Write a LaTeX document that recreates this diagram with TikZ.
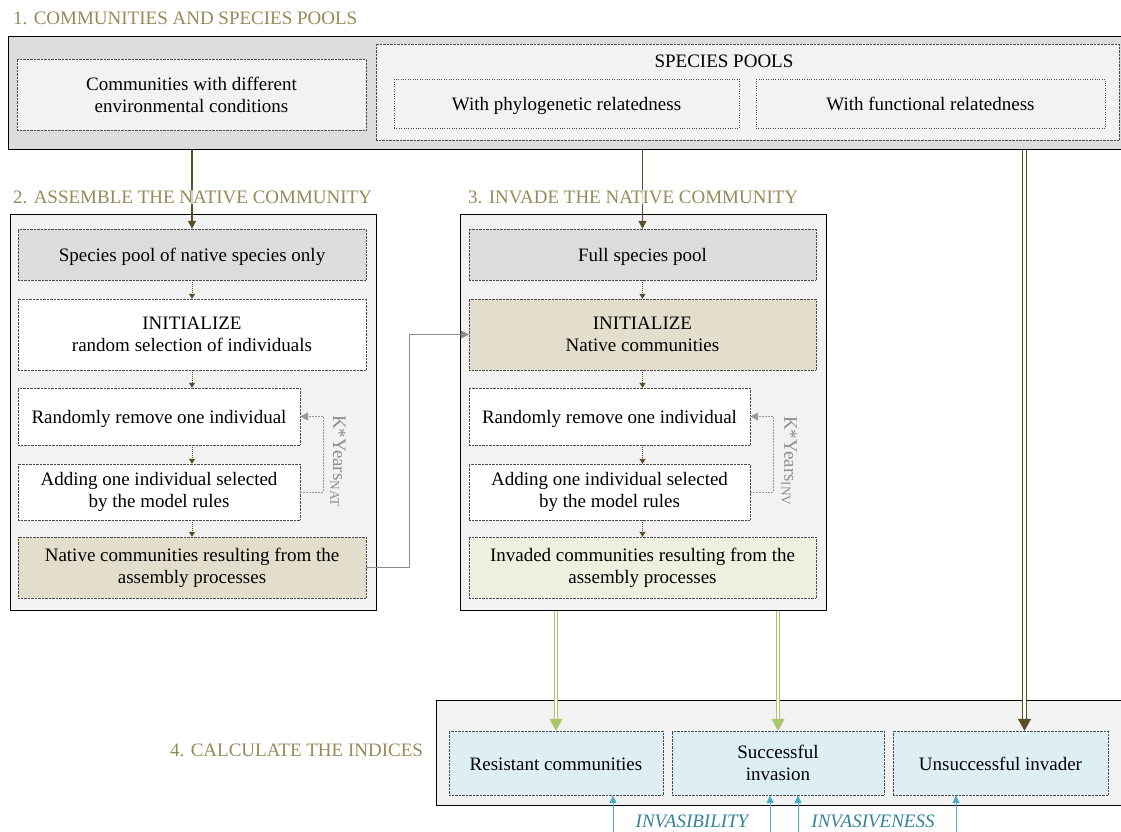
\documentclass[tikz,border=0pt]{standalone}
\usepackage{fontspec}
\setmainfont{Liberation Serif}
\usetikzlibrary{arrows.meta}
\definecolor{titleolive}{RGB}{152,138,88}
\definecolor{darkolive}{RGB}{90,78,40}
\definecolor{panelgray}{RGB}{242,242,242}
\definecolor{poolgray}{RGB}{220,220,220}
\definecolor{beige}{RGB}{227,222,203}
\definecolor{palegreen}{RGB}{235,241,222}
\definecolor{paleblue}{RGB}{222,238,245}
\definecolor{leafgreen}{RGB}{168,198,108}
\definecolor{skyblue}{RGB}{75,172,198}
\definecolor{tealtext}{RGB}{49,132,155}

\begin{document}
\begin{tikzpicture}[x=1pt,y=-1pt,
    every node/.style={font=\fontsize{19}{22}\selectfont},
    title/.style={anchor=west,text=titleolive,fill=white,fill opacity=0.75,text opacity=1,inner sep=1pt},
    panel/.style={draw=black,line width=1pt,fill=panelgray,inner sep=0},
    box/.style={draw=black!70,densely dotted,fill=panelgray,align=center,inner sep=2pt},
    oneline/.style={text height=14pt,text depth=0pt},
    subbox/.style={draw=black!70,dotted,align=center,inner sep=2pt,oneline},
    flow/.style={draw=darkolive,line width=1.2pt,-{Triangle[length=8pt,width=8pt]}},
    stepflow/.style={draw=darkolive,densely dotted,line width=1pt,-{Triangle[length=5pt,width=6pt]}},
    repeat/.style={draw=black!40,dash pattern=on 2pt off 1pt,line width=0.9pt,-{Triangle[length=8pt,width=8pt]}},
    link/.style={draw=black!45,line width=1pt,-{Triangle[length=8pt,width=8pt]}},
    greenpipe/.style={draw=leafgreen,line width=1.2pt,double=white,double distance=2.4pt,-{Triangle[length=12pt,width=13pt]}},
    olivepipe/.style={draw=darkolive,line width=1.2pt,double=white,double distance=2.4pt,-{Triangle[length=12pt,width=13pt]}},
    index/.style={draw=skyblue,line width=1pt,-{Triangle[length=8pt,width=7pt]}}]
  \useasboundingbox (0,0) rectangle (1121,832);

  % 1. communities and species pools
  \node[panel,fill=poolgray,minimum width=1117,minimum height=112] (sec1) at (566.5,93) {};
  \node[box,minimum width=349,minimum height=71] (env) at (191.5,94.5) {Communities with different\\environmental conditions};
  \node[box,minimum width=743,minimum height=96] (pools) at (747.5,92) {};
  \node (poolsname) at (724,61) {SPECIES POOLS};
  \node[subbox,minimum width=345,minimum height=49] (phylo) at (566.5,103.5) {With phylogenetic relatedness};
  \node[subbox,minimum width=349,minimum height=49] (func) at (930.5,103.5) {With functional relatedness};

  % 2. assemble the native community
  \node[panel,minimum width=366,minimum height=396] (sec2) at (193,412) {};
  \node[box,oneline,fill=poolgray,minimum width=348,minimum height=51] (natpool) at (192,254.5) {Species pool of native species only};
  \node[box,fill=white,minimum width=348,minimum height=71] (natinit) at (192,334.5) {INITIALIZE\\random selection of individuals};
  \node[box,oneline,fill=white,minimum width=282,minimum height=57] (natrem) at (159,416.5) {Randomly remove one individual};
  \node[box,fill=white,minimum width=282,minimum height=56] (natadd) at (159,492) {Adding one individual selected\\by the model rules};
  \node[box,fill=beige,minimum width=348,minimum height=61] (natres) at (192,567.5) {Native communities resulting from the\\assembly processes};

  % 3. invade the native community
  \node[panel,minimum width=366,minimum height=396] (sec3) at (643,412) {};
  \node[box,oneline,fill=poolgray,minimum width=347,minimum height=51] (fullpool) at (642.5,254.5) {Full species pool};
  \node[box,fill=beige,minimum width=347,minimum height=71] (invinit) at (642.5,334.5) {INITIALIZE\\Native communities};
  \node[box,oneline,fill=white,minimum width=281,minimum height=57] (invrem) at (609.5,416.5) {Randomly remove one individual};
  \node[box,fill=white,minimum width=281,minimum height=56] (invadd) at (609.5,492) {Adding one individual selected\\by the model rules};
  \node[box,fill=palegreen,minimum width=347,minimum height=61] (invres) at (642.5,567.5) {Invaded communities resulting from the\\assembly processes};

  % 4. calculate the indices
  \node[panel,minimum width=689,minimum height=105] (sec4) at (780.5,752.5) {};
  \node[box,oneline,fill=paleblue,minimum width=214,minimum height=64] (resist) at (556,763) {Resistant communities};
  \node[box,fill=paleblue,minimum width=212,minimum height=64] (succ) at (778,763) {Successful\\invasion};
  \node[box,oneline,fill=paleblue,minimum width=215,minimum height=64] (unsucc) at (1000.5,763) {Unsuccessful invader};

  % steps inside the two processes
  \foreach \a/\b in {natpool/natinit,natinit/natrem,natrem/natadd,natadd/natres}
    \draw[stepflow] (natpool |- \a.south) -- (natpool |- \b.north);
  \foreach \a/\b in {fullpool/invinit,invinit/invrem,invrem/invadd,invadd/invres}
    \draw[stepflow] (fullpool |- \a.south) -- (fullpool |- \b.north);
  \draw[repeat] (natadd.east) -- ++(23,0) |- (natrem.east);
  \draw[repeat] (invadd.east) -- ++(23,0) |- (invrem.east);
  \node[rotate=-90,text=black!45] (natyears) at (338,461) {K*Years\textsubscript{NAT}};
  \node[rotate=-90,text=black!45] (invyears) at (789,461) {K*Years\textsubscript{INV}};

  % between the sections
  \draw[flow] (sec1.south -| natpool) -- (natpool.north);
  \draw[flow] (sec1.south -| fullpool) -- (fullpool.north);
  \draw[link] (natres.east) -- ++(43,0) |- (invinit.west);
  \draw[greenpipe] (sec3.south -| resist) -- (resist.north);
  \draw[greenpipe] (sec3.south -| succ) -- (succ.north);
  \draw[olivepipe] ([xshift=24]unsucc.north |- sec1.south) -- ([xshift=24]unsucc.north);

  % indices
  \coordinate (ib1) at (613,832);
  \coordinate (ib2) at (770,832);
  \coordinate (ie1) at (798,832);
  \coordinate (ie2) at (956,832);
  \draw[index] (ib1) -- (ib1 |- resist.south);
  \draw[index] (ib2) -- (ib2 |- succ.south);
  \draw[index] (ie1) -- (ie1 |- succ.south);
  \draw[index] (ie2) -- (ie2 |- unsucc.south);
  \node[text=tealtext,font=\fontsize{19}{22}\selectfont\itshape] (invasib) at (692,821) {INVASIBILITY};
  \node[text=tealtext,font=\fontsize{19}{22}\selectfont\itshape] (invasiv) at (873,821) {INVASIVENESS};

  % section titles
  \node[title] (t1) at (12,18) {1. COMMUNITIES AND SPECIES POOLS};
  \node[title] (t2) at (12,197) {2. ASSEMBLE THE NATIVE COMMUNITY};
  \node[title] (t3) at (467,197) {3. INVADE THE NATIVE COMMUNITY};
  \node[title] (t4) at (169,750) {4. CALCULATE THE INDICES};
\end{tikzpicture}
\end{document}
